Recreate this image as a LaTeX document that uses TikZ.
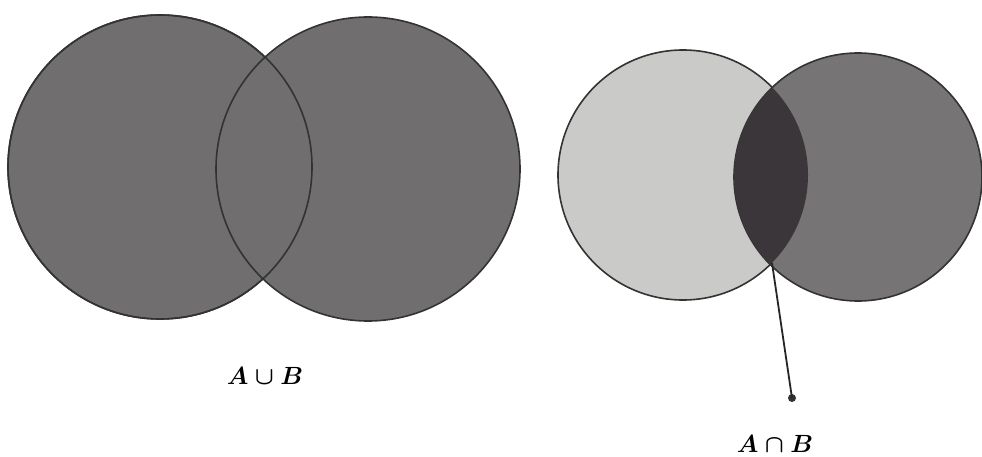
\documentclass[tikz,border=0pt]{standalone}
\usepackage{amsmath}
\begin{document}
\begin{tikzpicture}[x=1pt,y=-1pt,
  setcirc/.style={circle,draw=black!80,line width=1.6pt,inner sep=0pt},
  lbl/.style={font=\fontsize{25}{30}\selectfont\boldmath,inner sep=0pt}]
\definecolor{darkset}{RGB}{112,110,110}
\definecolor{lightset}{RGB}{202,202,200}
\definecolor{midset}{RGB}{118,116,116}
\definecolor{lensset}{RGB}{58,54,58}
\useasboundingbox (0,0) rectangle (982,457);
% union
\node[setcirc,fill=darkset,minimum size=304pt] (UA) at (160,167) {};
\node[setcirc,fill=darkset,minimum size=304pt] (UB) at (368,169) {};
\draw[black!80,line width=1.6pt] (UA.center) circle (152pt);
\node[lbl] (ulabel) at (265,376) {$A\cup B$};
% intersection
\node[setcirc,fill=lightset,minimum size=250pt] (IA) at (683,175) {};
\node[setcirc,fill=midset,minimum size=248pt] (IB) at (858,177) {};
\begin{scope}
  \clip (IA.center) circle (125pt);
  \fill[lensset] (IB.center) circle (124pt);
\end{scope}
\coordinate (lensbot) at (772,263);
\node[circle,fill=black!80,inner sep=0pt,minimum size=8pt] (dot) at (792,398) {};
\draw[black!85,line width=1.8pt] (lensbot) -- (dot.center);
\node[lbl] (ilabel) at (775,444) {$A\cap B$};
\end{tikzpicture}
\end{document}
